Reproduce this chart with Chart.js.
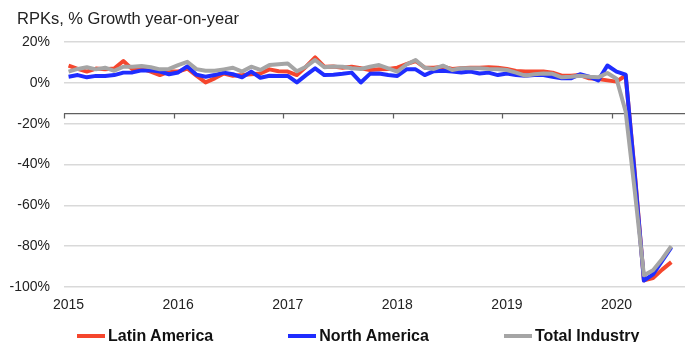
<!DOCTYPE html>
<html>
<head>
<meta charset="utf-8">
<script src="https://cdn.jsdelivr.net/npm/chart.js@4.4.1/dist/chart.umd.min.js"></script>
<style>
  html, body { margin: 0; padding: 0; background: #fff; overflow: hidden; width: 691px; height: 342px; }
  #wrap { position: relative; width: 691px; height: 342px; }
  #title {
    position: absolute; left: 17px; top: 9px; line-height: 20px;
    font: 16.5px "Liberation Sans", Arial, sans-serif; color: #222; white-space: nowrap;
  }
  #legend {
    position: absolute; left: 77px; top: 327px;
    display: flex; gap: 75px; white-space: nowrap; line-height: 18px;
    font: bold 16px "Liberation Sans", Arial, sans-serif;
    color: #111;
  }
  #legend .item { display: flex; align-items: center; }
  #legend .sw { width: 28px; height: 4px; margin-right: 3px; }
</style>
</head>
<body>
<div id="wrap">
  <canvas id="chart" width="691" height="342"></canvas>
  <div id="title"></div>
  <div id="legend"></div>
</div>
<script>
// Monthly slots from Jan 2015 to Aug 2020; values run to Jul 2020.
const years = ['2015', '2016', '2017', '2018', '2019', '2020'];
const monthNames = ['Jan', 'Feb', 'Mar', 'Apr', 'May', 'Jun', 'Jul', 'Aug', 'Sep', 'Oct', 'Nov', 'Dec'];
const categories = years.flatMap(y => monthNames.map(m => m + ' ' + y)).slice(0, 68);
const yearLabels = years;
const titleText = 'RPKs, % Growth year-on-year';

// RPK growth, % year-on-year
const latinAmerica = [
  8.4, 6.8, 5.5, 7.0, 6.7, 7.0, 10.7, 6.6, 7.0, 5.5, 3.8, 5.5,
  5.5, 7.0, 3.5, 0.2, 2.2, 4.6, 3.5, 3.8, 4.2, 4.6, 6.6, 5.7,
  5.5, 3.8, 7.9, 12.5, 7.9, 8.0, 7.4, 7.9, 7.1, 6.3, 6.6, 6.8,
  7.4, 9.2, 10.7, 7.4, 7.4, 7.9, 6.8, 7.1, 7.4, 7.4, 7.6, 7.4,
  6.8, 5.8, 5.5, 5.5, 5.5, 5.0, 3.5, 3.5, 3.8, 2.2, 1.9, 1.2,
  0.6, 3.6, -44.0, -96.7, -95.6, -91.5, -87.8
];
const northAmerica = [
  3.0, 3.8, 2.7, 3.4, 3.4, 3.8, 5.0, 5.1, 6.1, 6.1, 5.5, 4.2,
  5.1, 8.1, 4.0, 3.0, 3.8, 5.0, 4.2, 2.7, 5.5, 2.5, 3.5, 3.4,
  3.4, 0.2, 3.8, 7.1, 3.8, 4.0, 4.4, 5.0, 0.2, 4.4, 4.6, 3.8,
  3.4, 6.6, 6.6, 3.8, 5.7, 5.9, 5.5, 5.1, 5.5, 4.6, 5.0, 3.8,
  4.6, 3.8, 3.5, 3.8, 3.8, 3.0, 2.2, 2.2, 4.2, 3.0, 1.2, 8.5,
  5.5, 4.0, -45.0, -96.8, -93.8, -87.2, -80.6
];
const totalIndustry = [
  5.5, 6.8, 7.6, 6.6, 7.4, 5.9, 7.9, 7.9, 8.2, 7.6, 6.6, 6.8,
  8.7, 10.3, 6.7, 5.9, 5.9, 6.6, 7.4, 5.5, 7.9, 6.3, 8.7, 9.1,
  9.5, 5.7, 7.9, 11.2, 7.6, 8.0, 7.9, 7.1, 6.8, 7.9, 8.7, 7.1,
  5.5, 9.0, 11.2, 7.4, 6.8, 8.4, 6.3, 7.1, 7.1, 7.1, 6.8, 6.6,
  6.3, 5.0, 3.5, 4.2, 4.6, 4.4, 2.7, 3.0, 3.5, 3.0, 2.7, 4.8,
  2.0, -14.0, -53.0, -94.3, -91.8, -86.3, -80.0
];

const textColor = '#222';
const baseFont = '"Liberation Sans", Arial, sans-serif';

// Horizontal axis line drawn across the plot at a fixed value, with year tick marks.
const crossAxis = {
  id: 'crossAxis',
  beforeDatasetsDraw(chart, args, opts) {
    const { ctx, chartArea, scales: { x, y } } = chart;
    const yPix = Math.round(y.getPixelForValue(opts.value)) + 0.5;
    const half = (x.getPixelForValue(1) - x.getPixelForValue(0)) / 2;
    ctx.save();
    ctx.strokeStyle = opts.color;
    ctx.lineWidth = opts.width;
    ctx.beginPath();
    ctx.moveTo(chartArea.left, yPix);
    ctx.lineTo(chartArea.right, yPix);
    categories.forEach((c, i) => {
      if (c.startsWith('Jan')) {
        const px = Math.round(x.getPixelForValue(i) - half) + 0.5;
        ctx.moveTo(px, yPix);
        ctx.lineTo(px, yPix + opts.tick);
      }
    });
    ctx.stroke();
    ctx.restore();
  }
};

const series = [
  { label: 'Latin America', data: latinAmerica, color: '#f5462d', order: 3 },
  { label: 'North America', data: northAmerica, color: '#1f2dff', order: 2 },
  { label: 'Total Industry', data: totalIndustry, color: '#a5a5a5', order: 1 }
];

const chart = new Chart(document.getElementById('chart'), {
  type: 'line',
  data: {
    labels: categories,
    datasets: series.map(s => ({
      label: s.label,
      data: s.data,
      borderColor: s.color,
      backgroundColor: s.color,
      borderWidth: 4,
      borderJoinStyle: 'round',
      pointRadius: 0,
      tension: 0,
      order: s.order
    }))
  },
  options: {
    responsive: false,
    animation: false,
    layout: { padding: { left: 0, right: 6, top: 42, bottom: 28 } },
    plugins: {
      legend: { display: false },
      tooltip: { enabled: false },
      crossAxis: { value: -15, color: '#5f5f5f', width: 1.25, tick: 5 }
    },
    scales: {
      x: {
        type: 'category',
        offset: true,
        afterFit: s => { s.height = 27; },
        grid: { display: false, drawTicks: false },
        border: { display: false },
        ticks: {
          autoSkip: false,
          maxRotation: 0,
          padding: 10,
          color: textColor,
          font: { family: baseFont, size: 14 },
          callback: (v, i) => categories[i].startsWith('Jan') ? yearLabels[years.indexOf(categories[i].slice(4))] : null
        }
      },
      y: {
        min: -100,
        max: 20,
        afterFit: s => { s.width = 64; },
        grid: { color: '#d9d9d9', lineWidth: 1.5, drawTicks: false },
        border: { display: false },
        ticks: {
          stepSize: 20,
          padding: 14,
          color: textColor,
          font: { family: baseFont, size: 14 },
          callback: v => v + '%'
        }
      }
    }
  },
  plugins: [crossAxis]
});

document.getElementById('title').textContent = titleText;

// Legend built from the chart's own datasets
const legendEl = document.getElementById('legend');
chart.data.datasets.forEach(ds => {
  const item = document.createElement('div');
  item.className = 'item';
  const sw = document.createElement('span');
  sw.className = 'sw';
  sw.style.background = ds.borderColor;
  const txt = document.createElement('span');
  txt.textContent = ds.label;
  item.appendChild(sw);
  item.appendChild(txt);
  legendEl.appendChild(item);
});
</script>
</body>
</html>
